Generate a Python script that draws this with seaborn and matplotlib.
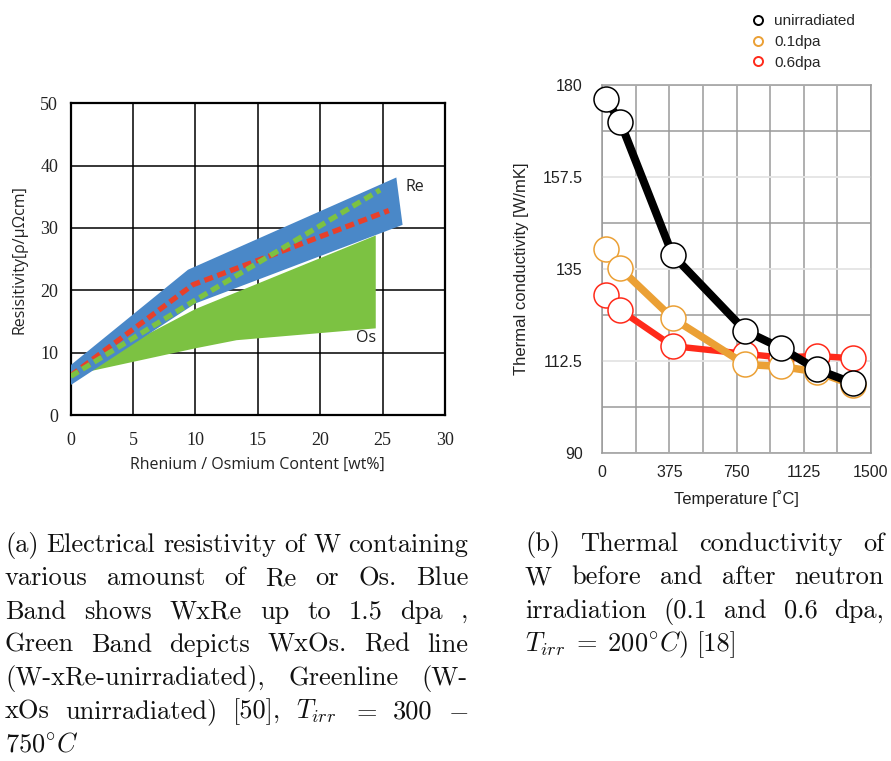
import matplotlib
matplotlib.use("Agg")
import matplotlib.pyplot as plt
import pandas as pd
import seaborn as sns
from matplotlib.lines import Line2D

# ---- (a) resistivity data ----
re_band_x = [0, 9.4, 26.1, 26.6, 10.0, 0]
re_band_y = [8.0, 23.3, 38.1, 30.5, 17.9, 4.8]
os_band_x = [0, 10.0, 24.45, 24.45, 13.3, 10.0, 1.5, 0]
os_band_y = [6.5, 17.0, 28.8, 13.9, 12.0, 10.7, 7.0, 6.5]
re_line_x = [0, 9.8, 15.0, 25.5]
re_line_y = [6.3, 20.9, 24.8, 32.8]
os_line_x = [0, 9.8, 15.0, 24.8]
os_line_y = [6.2, 18.2, 24.4, 36.1]

# ---- (b) thermal conductivity data ----
temps = [20, 100, 393, 800, 1000, 1198, 1403]
k_unirr = [176.6, 171.0, 138.4, 119.8, 115.6, 110.4, 107.0]
k_01dpa = [139.8, 135.1, 122.9, 111.6, 111.1, 109.8, 106.6]
k_06dpa = [128.6, 124.9, 116.1, 114.2, 113.3, 113.7, 113.1]
series_names = ["unirradiated", "0.1dpa", "0.6dpa"]
series_colors = ["#000000", "#eba035", "#ff2a1a"]

W, H = 891, 761
sns.set_style("white")
plt.rcParams["mathtext.fontset"] = "cm"
plt.rcParams["axes.unicode_minus"] = False

fig = plt.figure(figsize=(W / 100, H / 100), dpi=100)


def px_axes(x0, y0, x1, y1):
    return fig.add_axes([x0 / W, 1 - y1 / H, (x1 - x0) / W, (y1 - y0) / H])


# ================= left panel =================
ax1 = px_axes(70.7, 103.3, 445, 415)
ax1.fill(os_band_x, os_band_y, color="#7cc242", lw=0, zorder=2)
ax1.fill(re_band_x, re_band_y, color="#4a88c8", lw=0, zorder=3)
re_df = pd.DataFrame({"x": re_line_x, "y": re_line_y})
os_df = pd.DataFrame({"x": os_line_x, "y": os_line_y})
sns.lineplot(re_df, x="x", y="y", ax=ax1, color="#e8402a", lw=3.8,
             linestyle=(0, (1.7, 0.9)), zorder=4)
sns.lineplot(os_df, x="x", y="y", ax=ax1, color="#7cc242", lw=3.8,
             linestyle=(0, (1.7, 0.9)), zorder=5)
ax1.set_xlim(0, 30)
ax1.set_ylim(0, 50)
ax1.set_xticks(range(0, 31, 5))
ax1.set_yticks(range(0, 51, 10))
ax1.grid(True, color="black", lw=1.1, zorder=1)
ax1.set_axisbelow(True)
for s in ax1.spines.values():
    s.set_color("black")
    s.set_linewidth(1.6)
ax1.tick_params(length=0, pad=9, labelsize=13)
ax1.tick_params(axis="x", pad=12)
for lab in ax1.get_xticklabels() + ax1.get_yticklabels():
    lab.set_fontfamily("Liberation Serif")
    lab.set_color("#222222")
ax1.set_xlabel("Rhenium / Osmium Content [wt%]", family="Open Sans",
               fontsize=11.5, color="#222222", labelpad=6)
ax1.set_ylabel("Resisitivity[ρ/μΩcm]", family="Open Sans", fontsize=11.5,
               color="#222222", labelpad=9)
ax1.text(26.8, 36.6, "Re", family="Open Sans", fontsize=11.5, va="center",
         color="#222222")
ax1.text(22.9, 12.35, "Os", family="Open Sans", fontsize=11.5, va="center",
         color="#222222")

# ================= right panel =================
ax2 = px_axes(602.3, 85, 870.7, 452.7)
order = [("0.6dpa", k_06dpa, "#ff2a1a", 4.6),
         ("0.1dpa", k_01dpa, "#eba035", 5.4),
         ("unirradiated", k_unirr, "#000000", 5.8)]
for name, vals, col, lw in order:
    d = pd.DataFrame({"Temperature": temps, "k": vals})
    sns.lineplot(d, x="Temperature", y="k", ax=ax2, color=col, lw=lw,
                 marker="o", markersize=18, markerfacecolor="white",
                 markeredgecolor=col, markeredgewidth=1.1, clip_on=False,
                 zorder=3)

ax2.set_xlim(0, 1500)
ax2.set_ylim(90, 180)
ax2.set_xticks([0, 375, 750, 1125, 1500])
ax2.set_xticks([187.5, 562.5, 937.5, 1312.5], minor=True)
ax2.set_yticks([90, 112.5, 135, 157.5, 180])
ax2.set_yticks([101.25, 123.75, 146.25, 168.75], minor=True)
ax2.set_yticklabels(["90", "112.5", "135", "157.5", "180"])
ax2.grid(True, axis="x", which="both", color="#9a9a9a", lw=1.1)
ax2.grid(True, axis="y", which="minor", color="#9a9a9a", lw=1.1)
ax2.grid(True, axis="y", which="major", color="#e4e4e4", lw=1.3)
ax2.set_axisbelow(True)
for s in ax2.spines.values():
    s.set_color("#9a9a9a")
    s.set_linewidth(1.1)
ax2.tick_params(which="both", length=0, labelsize=11.5, labelcolor="#222222")
ax2.tick_params(axis="x", pad=9)
ax2.tick_params(axis="y", pad=14)
for lab in ax2.get_xticklabels() + ax2.get_yticklabels():
    lab.set_fontfamily("Liberation Sans")
ax2.set_xlabel("Temperature [˚C]", family="Liberation Sans", fontsize=12,
               color="#222222", labelpad=7)
ax2.set_ylabel("Thermal conductivity [W/mK]", family="Liberation Sans",
               fontsize=12, color="#222222", labelpad=10)

handles = [Line2D([], [], ls="none", marker="o", ms=6.5, mfc="white", mec=c,
                  mew=1.4) for c in series_colors]
fig.legend(handles, series_names, loc="upper left",
           bbox_to_anchor=(750 / W, 1 - 14 / H), frameon=False,
           prop={"family": "Liberation Sans", "size": 11},
           handletextpad=0.6, labelspacing=0.45, handlelength=1.0,
           borderpad=0, borderaxespad=0)

# ================= captions =================
cap_a = [
    "(a) Electrical resistivity of W containing",
    "various amounst of Re or Os.  Blue",
    "Band shows WxRe up to 1.5 dpa ,",
    "Green Band depicts WxOs.  Red line",
    "(W-xRe-unirradiated), Greenline (W-",
    "xOs unirradiated) [50], $T_{irr}$ $=$ 300 $-$",
    "750$^{\\circ}C$",
]
cap_b = [
    "(b) Thermal conductivity of",
    "W before and after neutron",
    "irradiation (0.1 and 0.6 dpa,",
    "$T_{irr}\\;=\\;200^{\\circ}C$) [18]",
]

renderer = fig.canvas.get_renderer()


def caption(lines, x0, x1, y_base, step, size=19):
    for i, line in enumerate(lines):
        words = line.split()
        texts = [fig.text(0, 0, w, family="cmr10", fontsize=size,
                          va="baseline", ha="left", color="#111111")
                 for w in words]
        widths = [t.get_window_extent(renderer).width for t in texts]
        last = i == len(lines) - 1
        if last or len(words) == 1:
            gap = size * 100 / 72 * 0.33
        else:
            gap = (x1 - x0 - sum(widths)) / (len(words) - 1)
        x = x0
        y = y_base + i * step
        for t, w in zip(texts, widths):
            t.set_position((x / W, 1 - y / H))
            x += w + gap


caption(cap_a, 5, 468, 552, 33.3)
caption(cap_b, 525, 884, 551, 33.5)

fig.savefig("out.png", dpi=100)
